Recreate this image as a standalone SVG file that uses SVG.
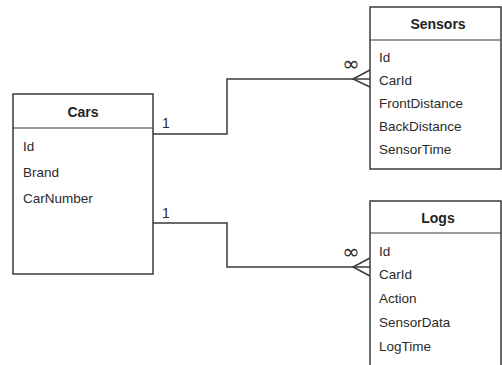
<svg xmlns="http://www.w3.org/2000/svg" width="502" height="365" viewBox="0 0 502 365">
<style>
.box{fill:#fff;stroke:#3a3a3a;stroke-width:1.5}
.sep{stroke:#3a3a3a;stroke-width:1.2}
.line{fill:none;stroke:#3a3a3a;stroke-width:1.5}
.h{font-family:"Liberation Sans",Arial,sans-serif;font-size:14px;font-weight:bold;fill:#222;text-anchor:middle}
.t{font-family:"Liberation Sans",Arial,sans-serif;font-size:13.5px;fill:#2a2a2a}
.lbl{font-family:"Liberation Sans",Arial,sans-serif;font-size:14px;fill:#2a2a2a}
.inf{font-family:"DejaVu Sans",sans-serif;font-size:21px;fill:#2a2a2a;text-anchor:middle}
</style>
<rect width="502" height="365" fill="#fff"/>
<g id="connectors">
<polyline class="line" points="153,134 227,134 227,79 370,79"/>
<polyline class="line" points="370,70 353,79 370,87"/>
<polyline class="line" points="153,223 227,223 227,267 370,267"/>
<polyline class="line" points="370,258 353,267 370,276"/>
<text class="lbl" x="162" y="128">1</text>
<text class="lbl" x="162" y="218">1</text>
<text class="inf" x="351" y="71">∞</text>
<text class="inf" x="351" y="259">∞</text>
</g>
<g id="cars">
<rect class="box" x="13" y="94" width="140" height="180"/>
<line class="sep" x1="13" y1="128" x2="153" y2="128"/>
<text class="h" x="83" y="117">Cars</text>
<text class="t" x="23" y="151">Id</text>
<text class="t" x="23" y="177">Brand</text>
<text class="t" x="23" y="203">CarNumber</text>
</g>
<g id="sensors">
<rect class="box" x="370" y="7" width="131" height="162"/>
<line class="sep" x1="370" y1="40" x2="501" y2="40"/>
<text class="h" x="438" y="29">Sensors</text>
<text class="t" x="379" y="62">Id</text>
<text class="t" x="379" y="85">CarId</text>
<text class="t" x="379" y="108">FrontDistance</text>
<text class="t" x="379" y="131">BackDistance</text>
<text class="t" x="379" y="154">SensorTime</text>
</g>
<g id="logs">
<rect class="box" x="370" y="201" width="131" height="170"/>
<line class="sep" x1="370" y1="233" x2="501" y2="233"/>
<text class="h" x="438" y="223">Logs</text>
<text class="t" x="379" y="256">Id</text>
<text class="t" x="379" y="279">CarId</text>
<text class="t" x="379" y="303">Action</text>
<text class="t" x="379" y="327">SensorData</text>
<text class="t" x="379" y="351">LogTime</text>
</g>
</svg>
